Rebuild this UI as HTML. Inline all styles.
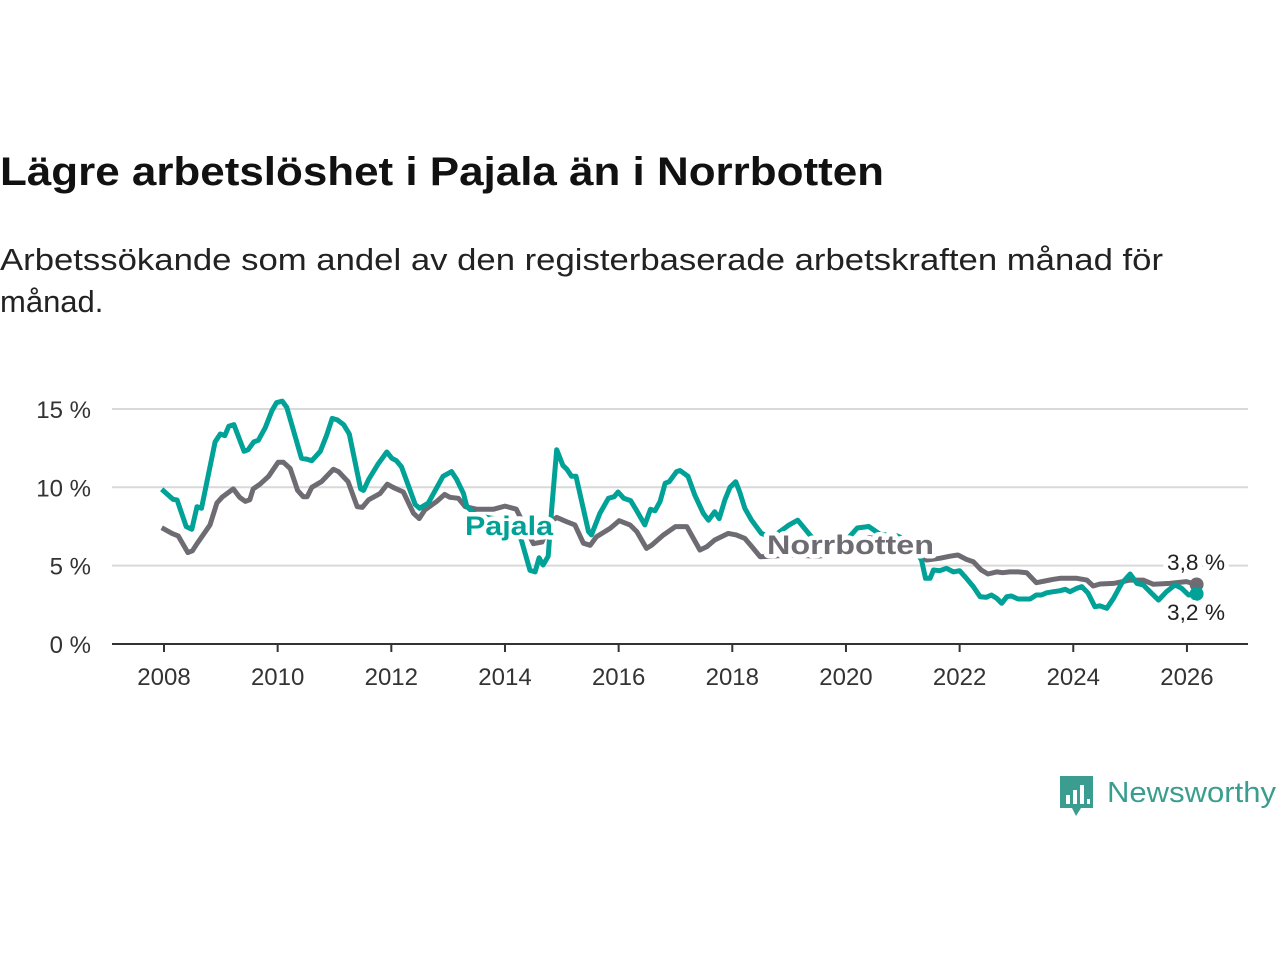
<!DOCTYPE html>
<html><head><meta charset="utf-8"><style>
body{margin:0;background:#fff;width:1280px;height:960px;overflow:hidden;font-family:"Liberation Sans",sans-serif}
svg{display:block}
</style></head><body>
<svg width="1280" height="960">
<text x="0" y="185" font-size="40" font-weight="bold" fill="#111" textLength="884" lengthAdjust="spacingAndGlyphs">Lägre arbetslöshet i Pajala än i Norrbotten</text>
<text x="0" y="270" font-size="31" fill="#222" textLength="1163" lengthAdjust="spacingAndGlyphs">Arbetssökande som andel av den registerbaserade arbetskraften månad för</text>
<text x="0" y="312" font-size="31" fill="#222">månad.</text>
<g id="grid"></g><g id="axes"></g><g id="series"></g><g id="labels"></g>
<g>
<path d="M1060 776 h33 v32 h-12 l-5 8 l-4 -8 h-12 z" fill="#3a9d8f"/>
<rect x="1066" y="795" width="4" height="9" fill="#fff"/><rect x="1073" y="790" width="4" height="14" fill="#fff"/><rect x="1080" y="785" width="4" height="19" fill="#fff"/><rect x="1087" y="799" width="3" height="5" fill="#fff"/>
<text x="1107" y="802" font-size="29" fill="#3a9d8f" textLength="169" lengthAdjust="spacingAndGlyphs">Newsworthy</text>
</g>
</svg>
<script>
const yTicks=[0,5,10,15];
const yTickLabels=["0 %","5 %","10 %","15 %"];
const xTicks=[2008,2010,2012,2014,2016,2018,2020,2022,2024,2026];
const pajalaT=[2007.96,2008.16,2008.23,2008.39,2008.49,2008.58,2008.66,2008.9,2008.99,2009.07,2009.14,2009.23,2009.41,2009.48,2009.58,2009.66,2009.78,2009.9,2009.98,2010.08,2010.16,2010.42,2010.51,2010.6,2010.75,2010.86,2010.96,2011.05,2011.16,2011.26,2011.46,2011.51,2011.6,2011.77,2011.92,2012.01,2012.09,2012.18,2012.33,2012.42,2012.5,2012.65,2012.91,2013.06,2013.15,2013.27,2013.33,2013.5,2013.8,2014.0,2014.2,2014.29,2014.44,2014.53,2014.6,2014.67,2014.76,2014.82,2014.91,2015.02,2015.09,2015.17,2015.25,2015.47,2015.52,2015.67,2015.82,2015.92,2015.99,2016.09,2016.21,2016.31,2016.46,2016.56,2016.64,2016.73,2016.82,2016.89,2017.02,2017.08,2017.22,2017.34,2017.49,2017.58,2017.69,2017.77,2017.87,2017.96,2018.06,2018.13,2018.22,2018.34,2018.51,2018.7,2019.0,2019.15,2019.4,2019.7,2020.0,2020.2,2020.4,2020.6,2020.9,2021.1,2021.33,2021.4,2021.48,2021.54,2021.65,2021.77,2021.89,2022.0,2022.12,2022.24,2022.36,2022.47,2022.56,2022.65,2022.74,2022.83,2022.91,2023.03,2023.24,2023.35,2023.44,2023.53,2023.65,2023.77,2023.86,2023.94,2024.06,2024.15,2024.26,2024.38,2024.47,2024.59,2024.71,2024.85,2025.0,2025.12,2025.23,2025.35,2025.5,2025.64,2025.79,2025.91,2026.03,2026.17];
const pajalaV=[9.87,9.23,9.19,7.49,7.32,8.76,8.66,12.9,13.4,13.3,13.9,14.0,12.3,12.4,12.9,13.0,13.8,14.9,15.4,15.5,15.1,11.85,11.8,11.7,12.3,13.3,14.4,14.3,14.0,13.4,9.9,9.8,10.5,11.5,12.25,11.85,11.7,11.3,9.8,8.9,8.66,9.0,10.7,11.0,10.5,9.6,8.76,8.2,8.0,7.8,7.3,6.6,4.7,4.6,5.5,5.04,5.6,8.55,12.4,11.4,11.15,10.7,10.7,7.17,6.96,8.34,9.3,9.4,9.7,9.3,9.15,8.55,7.6,8.6,8.5,9.1,10.26,10.36,11.0,11.07,10.7,9.5,8.34,7.9,8.44,8.0,9.2,10.0,10.36,9.7,8.66,7.9,7.06,6.8,7.6,7.9,6.8,6.2,6.6,7.4,7.5,7.0,6.9,6.6,5.36,4.19,4.19,4.72,4.68,4.83,4.6,4.68,4.19,3.66,3.02,2.98,3.13,2.92,2.6,3.02,3.06,2.87,2.87,3.13,3.13,3.27,3.34,3.4,3.49,3.34,3.55,3.66,3.24,2.38,2.43,2.28,2.92,3.87,4.47,3.87,3.77,3.34,2.8,3.34,3.77,3.55,3.13,3.2];
const norrT=[2007.96,2008.14,2008.25,2008.42,2008.5,2008.58,2008.81,2008.93,2009.02,2009.22,2009.33,2009.43,2009.51,2009.57,2009.69,2009.84,2010.01,2010.1,2010.22,2010.35,2010.45,2010.52,2010.6,2010.77,2010.98,2011.07,2011.24,2011.4,2011.49,2011.6,2011.8,2011.93,2012.03,2012.21,2012.39,2012.49,2012.59,2012.8,2012.94,2013.03,2013.18,2013.3,2013.5,2013.8,2014.0,2014.2,2014.35,2014.5,2014.65,2014.8,2014.91,2015.09,2015.23,2015.38,2015.5,2015.61,2015.85,2016.01,2016.2,2016.32,2016.49,2016.58,2016.79,2017.0,2017.2,2017.43,2017.55,2017.69,2017.93,2018.07,2018.22,2018.37,2018.49,2018.7,2019.0,2019.5,2020.0,2020.4,2020.8,2021.2,2021.42,2021.65,2021.83,2021.97,2022.12,2022.24,2022.38,2022.5,2022.65,2022.76,2022.88,2023.03,2023.18,2023.35,2023.5,2023.65,2023.77,2024.06,2024.24,2024.35,2024.47,2024.71,2025.0,2025.23,2025.41,2025.7,2025.99,2026.17];
const norrV=[7.42,7.06,6.9,5.83,5.95,6.4,7.6,9.0,9.36,9.9,9.36,9.1,9.2,9.9,10.2,10.7,11.6,11.6,11.2,9.8,9.4,9.4,10.0,10.36,11.15,11.0,10.36,8.76,8.72,9.2,9.6,10.2,10.0,9.7,8.34,8.0,8.55,9.1,9.55,9.36,9.3,8.76,8.6,8.6,8.8,8.6,7.5,6.4,6.5,7.8,8.08,7.8,7.6,6.43,6.3,6.85,7.38,7.87,7.6,7.17,6.1,6.3,6.96,7.49,7.49,6.0,6.2,6.64,7.06,6.96,6.74,6.1,5.57,5.6,5.7,5.6,5.8,6.8,6.5,5.8,5.36,5.47,5.6,5.68,5.4,5.25,4.72,4.47,4.6,4.55,4.6,4.6,4.55,3.91,4.02,4.13,4.19,4.19,4.08,3.7,3.83,3.87,4.08,4.08,3.81,3.87,3.98,3.8];
const NS="http://www.w3.org/2000/svg";
const X=t=>164+(t-2008)*56.83, Y=v=>644-v*15.67;
function mk(tag,attrs,parent){const e=document.createElementNS(NS,tag);for(const k in attrs)e.setAttribute(k,attrs[k]);parent.appendChild(e);return e;}
const grid=document.getElementById('grid'),axes=document.getElementById('axes'),ser=document.getElementById('series'),lab=document.getElementById('labels');
yTicks.forEach((v,i)=>{
 if(v>0){const g=mk('line',{x1:112,x2:1248,y1:Y(v),y2:Y(v),stroke:'#d9d9d9','stroke-width':2},grid);
 
 }
 const t=mk('text',{x:91,y:Y(v)+9,'font-size':24,fill:'#333','text-anchor':'end'},axes);t.textContent=yTickLabels[i];
 
 
});
const ax=mk('line',{x1:112,x2:1248,y1:644,y2:644,stroke:'#333','stroke-width':2},axes);


xTicks.forEach(yr=>{
 mk('line',{x1:X(yr),x2:X(yr),y1:644,y2:652,stroke:'#333','stroke-width':2},axes);
 const t=mk('text',{x:X(yr),y:685,'font-size':24,fill:'#333','text-anchor':'middle'},axes);t.textContent=yr;
 
 
});
function line(T,V,c,name){
 const d=T.map((t,i)=>(i?'L':'M')+X(t).toFixed(1)+' '+Y(V[i]).toFixed(1)).join(' ');
 const p=mk('path',{d:d,fill:'none',stroke:c,'stroke-width':5,'stroke-linejoin':'round'},ser);
 
 
 const n=T.length-1;
 const dot=mk('circle',{cx:X(T[n]),cy:Y(V[n]),r:7,fill:c},ser);
 
 
}
line(norrT,norrV,'#6e6c72','norrbotten-line');
line(pajalaT,pajalaV,'#00a196','pajala-line');
function label(x,y,txt,c,size,bold,name,len){
 const a={x:x,y:y,'font-size':size,fill:c,'font-weight':bold?'bold':'normal',stroke:'#fff','stroke-width':9,'paint-order':'stroke','stroke-linejoin':'round'};
 if(len){a.textLength=len;a.lengthAdjust='spacingAndGlyphs';}
 const t=mk('text',a,lab);
 t.textContent=txt;
 
 
}
label(465,535,'Pajala','#00a196',27,true,'pajala-series-label',88);
label(767,554,'Norrbotten','#6e6c72',27,true,'norrbotten-series-label',167);
label(1167,570,'3,8 %','#222',22,false,'norrbotten-end-value',58);
label(1167,620,'3,2 %','#222',22,false,'pajala-end-value',58);
</script>
</body></html>
